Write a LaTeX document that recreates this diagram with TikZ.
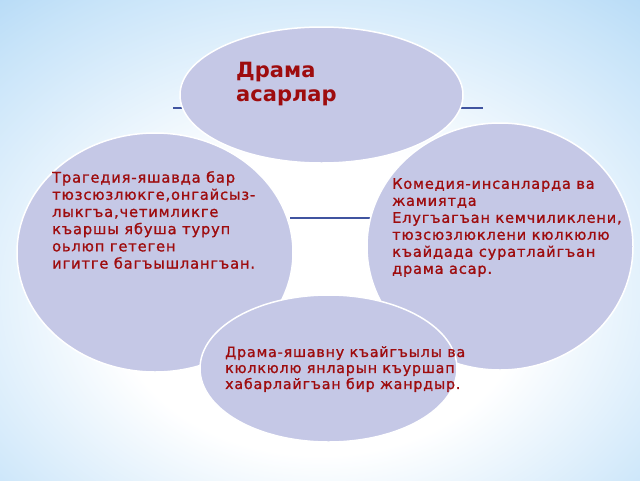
\documentclass[tikz,border=0pt]{standalone}
\usepackage{fontspec}
\setmainfont{DejaVu Sans}
\newfontfamily\bubblefont[LetterSpace=6,FakeBold=1.2]{DejaVu Sans}
\usetikzlibrary{shapes.geometric}

\definecolor{bubblefill}{RGB}{197,200,230}
\definecolor{textred}{RGB}{158,12,14}
\definecolor{lineblue}{RGB}{64,84,160}
\definecolor{bgout}{RGB}{140,196,240}
\definecolor{bgmid}{RGB}{200,228,249}
\pgfdeclareradialshading{slidebg}{\pgfpoint{0bp}{-8bp}}{color(0bp)=(white); color(16bp)=(white); color(34bp)=(bgmid); color(52bp)=(bgout); color(80bp)=(bgout)}

\begin{document}
\begin{tikzpicture}[x=1pt,y=-1pt,
    bubble/.style={ellipse, draw=white, line width=1.5pt, fill=bubblefill, inner sep=0pt},
    bubbletext/.style={anchor=north west, inner sep=0pt, align=left, text=textred,
      font=\bubblefont\fontsize{14.5}{17}\selectfont},
    link/.style={draw=lineblue, line width=1.6pt}]
    \shade [shading=slidebg] (0,0) rectangle (640,480);
    \useasboundingbox (0,0) rectangle (640,480);
    % lines behind the ellipses
    \coordinate (topl) at (173,108);
    \coordinate (topr) at (483,108);
    \coordinate (midl) at (290,218);
    \coordinate (midr) at (372,218);
    \draw [link] (topl) -- (topr);
    \draw [link] (midl) -- (midr);
    % ellipses
    \node [bubble, minimum width=276pt, minimum height=239pt] (tragedy) at (155,252.5) {};
    \node [bubble, minimum width=266pt, minimum height=247pt] (comedy) at (500,246.5) {};
    \node [bubble, minimum width=283pt, minimum height=136pt] (drama) at (321.5,95) {};
    \node [bubble, minimum width=257pt, minimum height=147pt] (genre) at (328.5,368.5) {};
    % texts
    \node [bubbletext, font=\bfseries\fontsize{21}{24}\selectfont] (dramatext) at (236,62) {Драма\\асарлар};
    \node [bubbletext, font=\bubblefont\fontsize{14.6}{17.2}\selectfont] (tragedytext) at (52,171) {Трагедия-яшавда бар\\тюзсюзлюкге,онгайсыз-\\лыкгъа,четимликге\\къаршы ябуша туруп\\оьлюп гетеген\\игитге багъышлангъан.};
    \node [bubbletext] (comedytext) at (392,178) {Комедия-инсанларда ва\\жамиятда\\Елугъагъан кемчиликлени,\\тюзсюзлюклени кюлкюлю\\къайдада суратлайгъан\\драма асар.};
    \node [bubbletext, font=\bubblefont\fontsize{14.2}{16}\selectfont] (genretext) at (225,346) {Драма-яшавну къайгъылы ва\\кюлкюлю янларын къуршап\\хабарлайгъан бир жанрдыр.};
\end{tikzpicture}
\end{document}
